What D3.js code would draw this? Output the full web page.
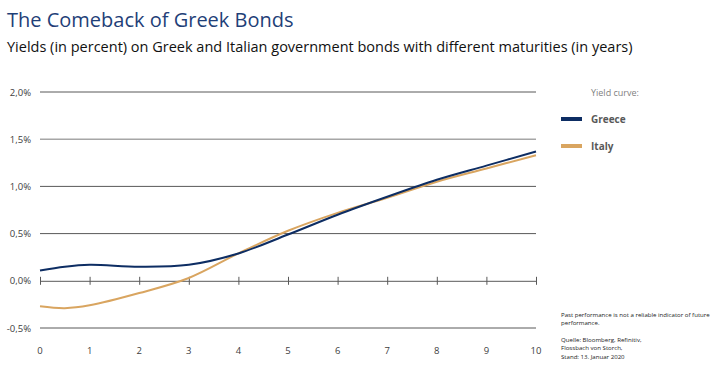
<!DOCTYPE html>
<html><head><meta charset="utf-8">
<script src="https://cdn.jsdelivr.net/npm/d3@7"></script>
<style>body{margin:0;background:#fff;} svg{display:block;}</style>
</head><body>
<svg id="c" width="711" height="372"></svg>
<script>
const maturities = [0,0.5,1,2,3,4,5,6,7,8,9,10];
const greece = [0.11,0.15,0.17,0.15,0.17,0.29,0.49,0.70,0.89,1.07,1.22,1.37];
const italy  = [-0.27,-0.29,-0.26,-0.13,0.03,0.29,0.53,0.72,0.88,1.05,1.19,1.33];
const yTicks = [-0.5,0,0.5,1.0,1.5,2.0];
const xTicks = [0,1,2,3,4,5,6,7,8,9,10];
const seriesNames = ["Greece","Italy"];
const colors = ["#0d2d63","#d9a560"];
const title = "The Comeback of Greek Bonds";
const subtitle = "Yields (in percent) on Greek and Italian government bonds with different maturities (in years)";
const legendTitle = "Yield curve:";
const notes = ["Past performance is not a reliable indicator of future","performance.","","Quelle: Bloomberg, Refinitiv,","Flossbach von Storch,","Stand: 13. Januar 2020"];

const svg = d3.select("#c");
const font = "'Open Sans', sans-serif";
const x = d3.scaleLinear().domain([0,10]).range([40,536]);
const y = d3.scaleLinear().domain([-0.5,2.0]).range([328,92]);

svg.append("text").attr("x",7).attr("y",27).attr("fill","#1f3f78")
  .style("font-family",font).style("font-size","20px").text(title);
svg.append("text").attr("x",7).attr("y",52).attr("fill","#111")
  .style("font-family",font).style("font-size","14.5px").text(subtitle);

// gridlines
svg.append("g").selectAll("line").data(yTicks.filter(d=>d!==0)).join("line")
  .attr("x1",x(0)).attr("x2",x(10)).attr("y1",d=>y(d)).attr("y2",d=>y(d))
  .attr("stroke",d=>d===1.5?"#a6a6a6":"#595959").attr("stroke-width",d=>d===1.5?1.5:1);

// y labels
const fmt = d => d3.format(".1f")(d).replace(".",",").replace("−","-") + "%";
svg.append("g").selectAll("text").data(yTicks).join("text")
  .attr("x",31).attr("y",d=>y(d)+3.5).attr("text-anchor","end")
  .attr("fill","#404040").style("font-family",font).style("font-size","9.5px").text(fmt);

// zero axis with ticks
const ax = svg.append("g").attr("transform",`translate(0,${y(0)})`)
  .call(d3.axisBottom(x).tickValues(xTicks).tickSizeInner(4).tickSizeOuter(0).tickFormat(""));
ax.select(".domain").attr("stroke","#595959");
ax.selectAll(".tick line").attr("stroke","#595959").attr("y1",-4).attr("y2",4);

// x labels
svg.append("g").selectAll("text").data(xTicks).join("text")
  .attr("x",d=>x(d)).attr("y",354).attr("text-anchor","middle")
  .attr("fill","#404040").style("font-family",font).style("font-size","9.5px").text(d=>d);

// lines
const line = d3.line().x((d,i)=>x(maturities[i])).y(d=>y(d)).curve(d3.curveCatmullRom.alpha(0.5));
[italy, greece].forEach((s,k)=>{
  const idx = k===0?1:0;
  svg.append("path").datum(s).attr("d",line).attr("fill","none")
    .attr("stroke",colors[idx]).attr("stroke-width",2);
});

// legend
svg.append("text").attr("x",591).attr("y",96).attr("fill","#7f7f7f")
  .style("font-family",font).style("font-size","9px").text(legendTitle);
seriesNames.forEach((n,i)=>{
  const yy = 119 + i*27;
  svg.append("line").attr("x1",561).attr("x2",582).attr("y1",yy).attr("y2",yy)
    .attr("stroke",colors[i]).attr("stroke-width",4);
  svg.append("text").attr("x",591).attr("y",yy+4).attr("fill","#595959")
    .style("font-family",font).style("font-size","10px").style("font-weight","bold").text(n);
});

// notes
notes.forEach((t,i)=>{
  svg.append("text").attr("x",561).attr("y",317+i*8.3).attr("fill","#222")
    .style("font-family",font).style("font-size","6.1px").text(t);
});
</script>
</body></html>
